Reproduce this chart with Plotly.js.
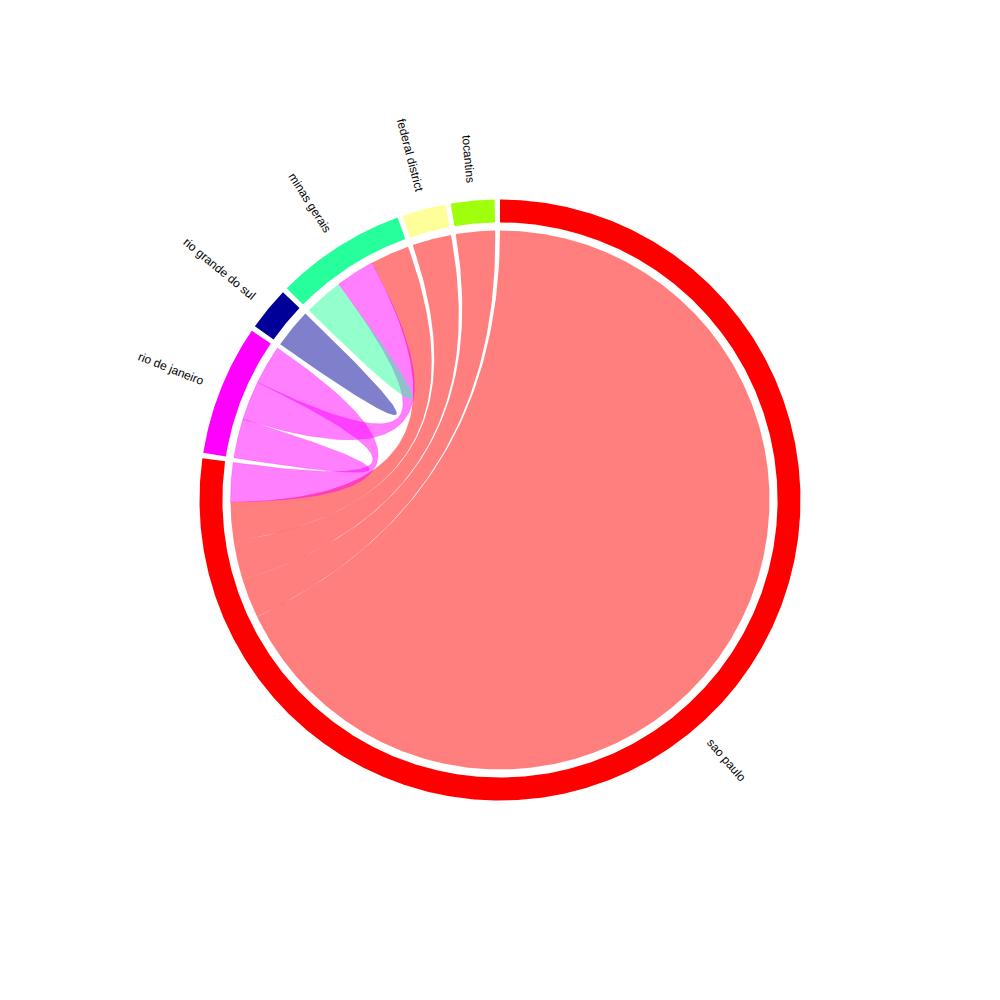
<!DOCTYPE html>
<html>
<head>
<meta charset="utf-8">
<script src="https://cdn.plot.ly/plotly-3.0.1.min.js"></script>
<style>html,body{margin:0;padding:0;background:#fff}</style>
</head>
<body>
<div id="chart" style="width:1000px;height:1000px"></div>
<script>
// ---- data ----
const nodes = ['sao paulo', 'rio de janeiro', 'rio grande do sul', 'minas gerais', 'federal district', 'tocantins'];
const nodeColors = ['rgb(255,0,0)', 'rgb(255,0,255)', 'rgb(0,0,153)', 'rgb(38,255,155)', 'rgb(255,255,153)', 'rgb(160,255,12)'];
const linkSource = ['sao paulo', 'sao paulo', 'sao paulo', 'sao paulo', 'rio de janeiro', 'rio de janeiro', 'rio de janeiro', 'rio grande do sul', 'minas gerais'];
const linkTarget = ['sao paulo', 'tocantins', 'federal district', 'minas gerais', 'sao paulo', 'rio de janeiro', 'minas gerais', 'rio grande do sul', 'minas gerais'];
const linkValue = [29, 1, 1, 1, 1, 1, 1, 1, 1];
// order of each link end inside its node (clockwise)
const sourceRank = [0, 1, 2, 3, 2, 0, 1, 0, 0];
const targetRank = [0, 0, 0, 2, 4, 0, 1, 0, 0];

// ---- geometry / style settings ----
const PAD = 1.03;            // degrees between groups
const R_RIB = 1, R_IN = 1.03, R_OUT = 1.115, R_LABEL = 1.183;
const L = 500 / 269.5;       // axis half range
const PXU = 1000 / (2 * L);  // px per unit
const strokedNodes = ['rio de janeiro'];

function pt(r, deg) { const a = deg * Math.PI / 180; return [r * Math.sin(a), r * Math.cos(a)]; }
function arc(r, a0, a1, xs, ys) {
  const n = Math.max(2, Math.ceil(Math.abs(a1 - a0) / 0.4));
  for (let i = 0; i <= n; i++) { const p = pt(r, a0 + (a1 - a0) * i / n); xs.push(p[0]); ys.push(p[1]); }
}
function quad(p0, p2, xs, ys) {
  const n = 90;
  for (let i = 1; i <= n; i++) {
    const t = i / n, u = 1 - t;
    xs.push(u * u * p0[0] + t * t * p2[0]); ys.push(u * u * p0[1] + t * t * p2[1]);
  }
}

const N = nodes.length;
const ends = nodes.map(() => []);
linkSource.forEach((s, i) => {
  const si = nodes.indexOf(s), ti = nodes.indexOf(linkTarget[i]);
  ends[si].push({ rank: sourceRank[i], link: i, role: 's' });
  if (ti !== si) ends[ti].push({ rank: targetRank[i], link: i, role: 't' });
});
const totals = ends.map(e => e.reduce((a, d) => a + linkValue[d.link], 0));
const grand = totals.reduce((a, b) => a + b, 0);
const k = (360 - PAD * N) / grand;

const groupAng = [];
const endAng = {};
let start = 0;
for (let n = 0; n < N; n++) {
  const a0 = start, a1 = start + totals[n] * k;
  groupAng.push([a0, a1]);
  let c = a0;
  ends[n].slice().sort((a, b) => a.rank - b.rank).forEach(e => {
    const w = linkValue[e.link] * k;
    endAng[e.link + e.role] = [c, c + w];
    c += w;
  });
  start = a1 + PAD;
}

function rgba(c, a) { return c.replace('rgb(', 'rgba(').replace(')', ',' + a + ')'); }

const traces = [];
linkSource.forEach((s, i) => {
  const si = nodes.indexOf(s), ti = nodes.indexOf(linkTarget[i]);
  const xs = [], ys = [];
  const sa = endAng[i + 's'];
  arc(R_RIB, sa[0], sa[1], xs, ys);
  if (si !== ti) {
    const ta = endAng[i + 't'];
    quad(pt(R_RIB, sa[1]), pt(R_RIB, ta[0]), xs, ys);
    arc(R_RIB, ta[0], ta[1], xs, ys);
    quad(pt(R_RIB, ta[1]), pt(R_RIB, sa[0]), xs, ys);
  } else {
    quad(pt(R_RIB, sa[1]), pt(R_RIB, sa[0]), xs, ys);
  }
  const stroked = strokedNodes.indexOf(s) >= 0;
  traces.push({
    type: 'scatter', mode: 'lines', x: xs, y: ys, fill: 'toself',
    fillcolor: rgba(nodeColors[si], 0.5),
    line: stroked ? { width: 0.6, color: rgba(nodeColors[si], 0.4) } : { width: 0 },
    hoverinfo: 'text', text: s + ' - ' + linkTarget[i] + ': ' + linkValue[i], showlegend: false
  });
});
groupAng.forEach((g, n) => {
  const xs = [], ys = [];
  arc(R_OUT, g[0], g[1], xs, ys);
  arc(R_IN, g[1], g[0], xs, ys);
  xs.push(xs[0]); ys.push(ys[0]);
  traces.push({
    type: 'scatter', mode: 'lines', x: xs, y: ys, fill: 'toself',
    fillcolor: nodeColors[n], line: { width: 0 },
    hoverinfo: 'text', text: nodes[n], showlegend: false
  });
});

const cv = document.createElement('canvas').getContext('2d');
cv.font = '12px "Liberation Sans", Arial, sans-serif';
const annotations = groupAng.map((g, n) => {
  const mid = (g[0] + g[1]) / 2;
  const w = cv.measureText(nodes[n]).width;
  const p = pt(R_LABEL + (w / 2) / PXU, mid);
  const ang = mid < 180 ? mid - 90 : mid - 270;
  return {
    x: p[0], y: p[1], xref: 'x', yref: 'y', text: nodes[n], showarrow: false,
    textangle: ang, xanchor: 'center', yanchor: 'middle',
    font: { family: '"Liberation Sans", Arial, sans-serif', size: 12, color: '#000' }
  };
});

const layout = {
  width: 1000, height: 1000,
  margin: { l: 0, r: 0, t: 0, b: 0 },
  paper_bgcolor: '#fff', plot_bgcolor: '#fff',
  xaxis: { range: [-L, L], visible: false, fixedrange: true },
  yaxis: { range: [-L, L], visible: false, fixedrange: true },
  showlegend: false,
  annotations: annotations,
  hovermode: 'closest'
};
Plotly.newPlot('chart', traces, layout, { displayModeBar: false });
</script>
</body>
</html>
